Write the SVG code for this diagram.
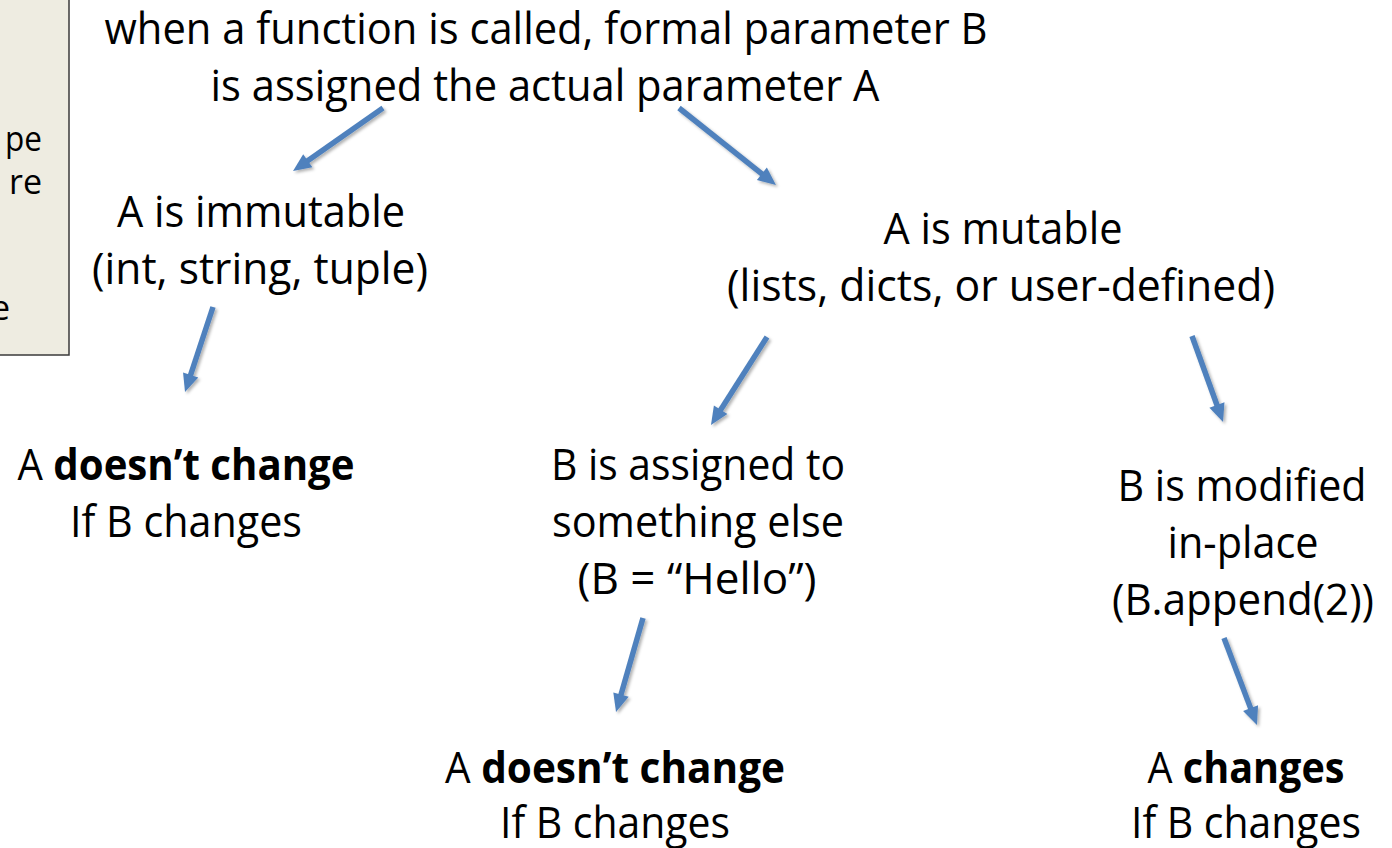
<svg xmlns="http://www.w3.org/2000/svg" width="1392" height="848" viewBox="0 0 1392 848">
  <style>
    .t { font-family: "Open Sans", "Noto Sans", "DejaVu Sans", sans-serif; font-size: 43px; fill: #000; text-anchor: middle; }
    .b { font-weight: 700; }
    .side { font-family: "Open Sans", "Noto Sans", "DejaVu Sans", sans-serif; font-size: 34px; fill: #000; text-anchor: end; }
    .arrow { stroke: #4F81BD; stroke-width: 5.5; fill: none; marker-end: url(#ah); }
  </style>
  <defs>
    <marker id="ah" markerUnits="userSpaceOnUse" markerWidth="18" markerHeight="16" refX="4" refY="8" orient="auto" overflow="visible">
      <path d="M0,0 L18,8 L0,16 Z" fill="#4F81BD"/>
    </marker>
    <filter id="sh" x="-20%" y="-20%" width="140%" height="140%">
      <feDropShadow dx="2" dy="2" stdDeviation="1.5" flood-color="#000" flood-opacity="0.3"/>
    </filter>
  </defs>
  <rect width="1392" height="848" fill="#ffffff"/>

  <g id="sidebox">
    <rect x="-3" y="-3" width="72" height="358" fill="#EEECE1" stroke="#3a3a3a" stroke-width="1.5"/>
    <text class="side" x="42" y="151" textLength="37" lengthAdjust="spacingAndGlyphs">pe</text>
    <text class="side" x="42" y="194" textLength="33" lengthAdjust="spacingAndGlyphs">re</text>
    <text class="side" x="10" y="320">e</text>
  </g>

  <g id="root">
    <text class="t" x="546" y="44" textLength="883" lengthAdjust="spacingAndGlyphs">when a function is called, formal parameter B</text>
    <text class="t" x="545" y="101" textLength="669" lengthAdjust="spacingAndGlyphs">is assigned the actual parameter A</text>
  </g>

  <g id="immutable">
    <text class="t" x="261" y="227" textLength="288" lengthAdjust="spacingAndGlyphs">A is immutable</text>
    <text class="t" x="260" y="284" textLength="336" lengthAdjust="spacingAndGlyphs">(int, string, tuple)</text>
  </g>

  <g id="mutable">
    <text class="t" x="1003" y="244" textLength="239" lengthAdjust="spacingAndGlyphs">A is mutable</text>
    <text class="t" x="1001" y="301" textLength="548" lengthAdjust="spacingAndGlyphs">(lists, dicts, or user-defined)</text>
  </g>

  <g id="immutable-result">
    <text class="t" x="186" y="480" textLength="337" lengthAdjust="spacingAndGlyphs">A <tspan class="b">doesn’t change</tspan></text>
    <text class="t" x="186" y="537" textLength="232" lengthAdjust="spacingAndGlyphs">If B changes</text>
  </g>

  <g id="reassigned">
    <text class="t" x="698" y="480" textLength="294" lengthAdjust="spacingAndGlyphs">B is assigned to</text>
    <text class="t" x="698" y="537" textLength="292" lengthAdjust="spacingAndGlyphs">something else</text>
    <text class="t" x="697" y="594" textLength="239" lengthAdjust="spacingAndGlyphs">(B = “Hello”)</text>
  </g>

  <g id="modified">
    <text class="t" x="1242" y="501" textLength="249" lengthAdjust="spacingAndGlyphs">B is modified</text>
    <text class="t" x="1243" y="558" textLength="151" lengthAdjust="spacingAndGlyphs">in-place</text>
    <text class="t" x="1243" y="615" textLength="262" lengthAdjust="spacingAndGlyphs">(B.append(2))</text>
  </g>

  <g id="reassigned-result">
    <text class="t" x="615" y="783" textLength="340" lengthAdjust="spacingAndGlyphs">A <tspan class="b">doesn’t change</tspan></text>
    <text class="t" x="615" y="838" textLength="230" lengthAdjust="spacingAndGlyphs">If B changes</text>
  </g>

  <g id="modified-result">
    <text class="t" x="1246" y="783" textLength="197" lengthAdjust="spacingAndGlyphs">A <tspan class="b">changes</tspan></text>
    <text class="t" x="1246" y="838" textLength="230" lengthAdjust="spacingAndGlyphs">If B changes</text>
  </g>

  <g id="connectors" filter="url(#sh)">
    <line class="arrow" x1="383" y1="108" x2="304.5" y2="163"/>
    <line class="arrow" x1="679" y1="108" x2="765" y2="176.3"/>
    <line class="arrow" x1="213" y1="307" x2="189.4" y2="378.7"/>
    <line class="arrow" x1="767" y1="337" x2="718.5" y2="413.2"/>
    <line class="arrow" x1="1192" y1="336" x2="1218.3" y2="408.8"/>
    <line class="arrow" x1="643" y1="618" x2="619.9" y2="698.5"/>
    <line class="arrow" x1="1224" y1="638" x2="1252" y2="711.9"/>
  </g>
</svg>
